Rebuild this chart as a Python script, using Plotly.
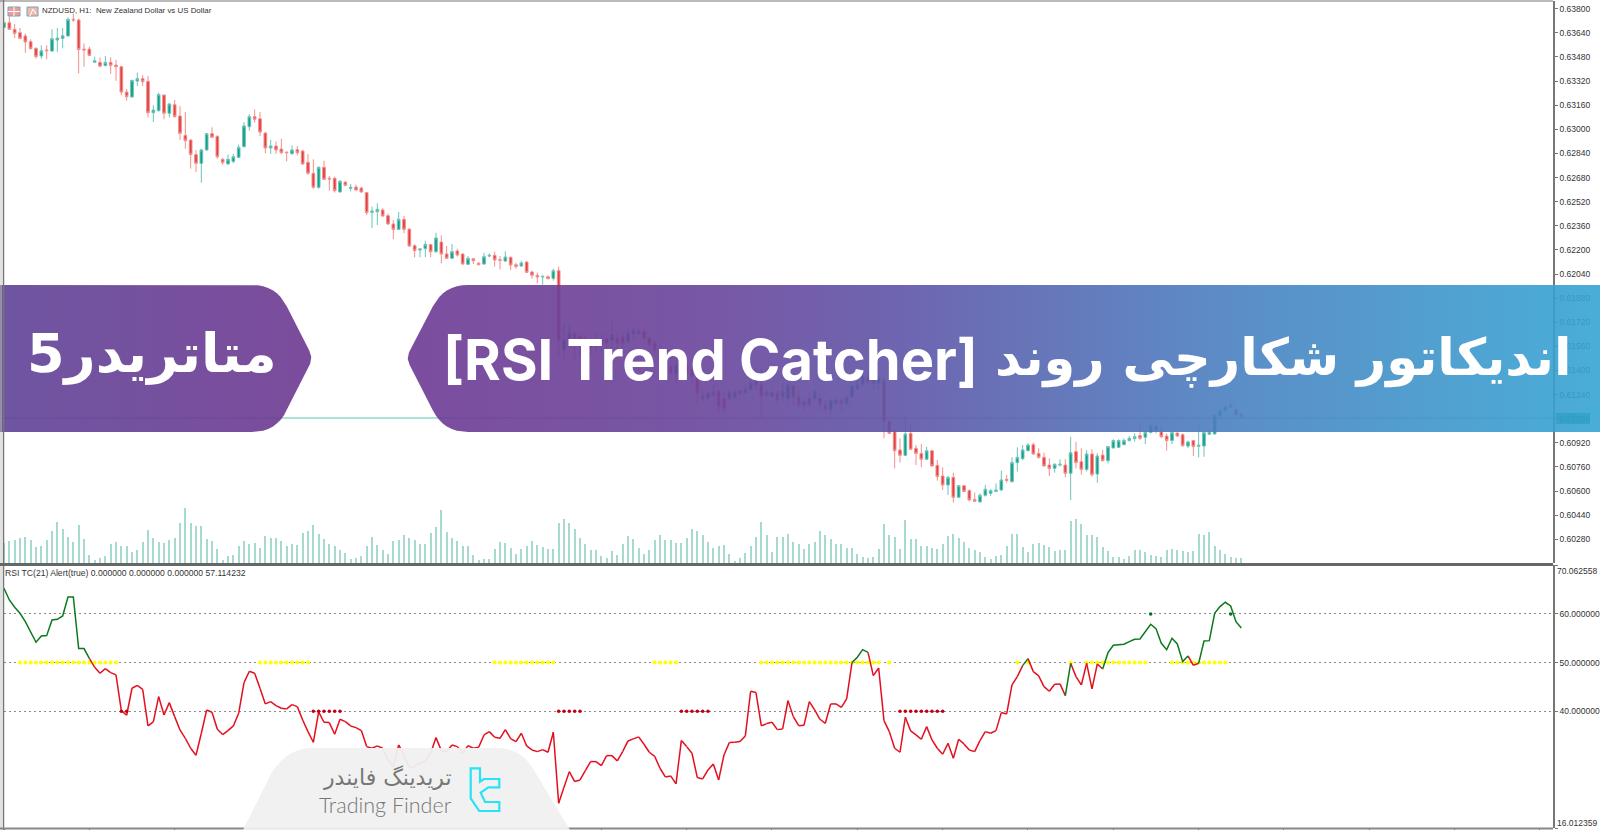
import plotly.graph_objects as go

# ---------- data (prices in points of 0.00001) ----------
opens_pts = [
63676,63707,63663,63641,63619,63581,63537,63486,63526,63519,
63592,63603,63619,63729,63725,63532,63532,63444,63444,63422,
63444,63426,63415,63247,63214,63320,63336,63318,63110,63123,
63227,63106,63163,63088,62960,62929,62832,62774,62863,62971,
62953,62801,62770,62787,62814,62885,63017,63084,63070,62975,
62876,62889,62869,62849,62838,62865,62856,62781,62708,62615,
62748,62675,62675,62584,62650,62608,62617,62610,62580,
62449,62453,62465,62427,62372,62336,62403,62338,62228,62199,
62208,62235,62188,62252,62173,62144,62193,62173,62104,62142,
62111,62106,62159,62164,62135,62126,62151,62102,62093,62120,
62053,62031,62020,62022,62011,62062,
61536,61591,61646,61624,61613,61602,61558,61569,61611,61602,
61613,61624,61591,61646,61646,61657,61613,61580,61540,61481,
61425,61381,61392,61425,61403,61381,61215,61222,61237,61260,
61215,61215,61222,61248,61253,61275,61337,61304,61237,61231,
61249,61226,61215,61297,61226,61171,61215,61215,61215,61171,
61142,61182,61204,61182,61226,61279,61310,61355,61337,61315,61333,
61061,60994,60873,60837,60983,60884,60850,60811,60868,60771,
60700,60640,60691,60559,60636,60603,60545,60528,60572,60585,
60598,60607,60678,60663,60789,60815,60868,60908,60850,60824,
60773,60751,60773,60773,60718,60862,60795,60744,60846,60713,
60839,60802,60886,60890,60908,60935,60948,60968,60957,60988,
61005,60994,60965,60935,60985,60974,60899,60935,60897,60899,
60977,60979,61098,61134,61171,61142,61107]
highs_pts = [
63712,63747,63698,63672,63636,63597,63544,63557,63557,63663,
63672,63672,63743,63765,63734,63570,63548,63482,63477,63486,
63477,63460,63420,63269,63327,63376,63358,63353,63159,63243,
63230,63172,63194,63154,63115,62933,62863,62871,62973,63013,
62960,62809,62832,62836,62898,63048,63101,63132,63115,62982,
62929,62920,62938,62851,62893,62889,62863,62836,62801,62752,
62792,62690,62686,62664,62653,62637,62633,62619,62584,
62487,62509,62476,62442,62398,62451,62425,62341,62237,62212,
62261,62239,62314,62296,62226,62239,62208,62177,62159,62144,
62120,62181,62177,62188,62159,62190,62155,62115,62128,62122,
62062,62049,62031,62031,62075,62089,
61713,61713,61657,61646,61635,61624,61646,61635,61646,61735,
61646,61657,61680,61686,61680,61673,61624,61602,61569,61514,
61492,61492,61481,61447,61425,61403,61271,61260,61304,61271,
61260,61271,61271,61275,61293,61337,61425,61414,61282,61271,
61271,61315,61337,61304,61271,61215,61249,61275,61249,61204,
61215,61215,61215,61231,61304,61337,61392,61381,61370,61359,61348,
61072,60994,60950,61094,61050,60906,60912,60895,60873,60806,
60758,60700,60722,60640,60640,60612,60590,60585,60640,60612,
60651,60736,60707,60824,60890,60906,60917,60921,60884,60855,
60817,60784,60811,60811,60961,60928,60884,60873,60877,60851,
60873,60895,60943,60943,60950,60965,60983,61045,61005,61045,
61038,61032,60983,61001,60988,60983,60935,60939,61045,60994,
61005,61111,61138,61164,61187,61149,61116]
lows_pts = [
63672,63658,63605,63597,63508,63530,63468,63468,63464,63513,
63513,63537,63614,63712,63371,63415,63486,63442,63415,63420,
63367,63322,63225,63190,63212,63287,63287,63079,63048,63119,
63066,63079,63079,62929,62871,62739,62717,62646,62858,62942,
62805,62765,62765,62774,62809,62880,62991,63044,62955,62840,
62836,62836,62836,62787,62832,62827,62765,62699,62606,62606,
62664,62593,62580,62580,62624,62588,62593,62580,62431,
62345,62365,62420,62365,62272,62332,62310,62221,62151,62151,
62151,62151,62181,62111,62142,62142,62155,62102,62100,62106,
62098,62102,62151,62089,62071,62120,62066,62075,62089,62047,
62009,61978,61969,62005,61996,61492,
61481,61558,61470,61492,61503,61492,61514,61514,61536,61514,
61547,61547,61580,61613,61635,61602,61547,61514,61459,61392,
61359,61315,61359,61355,61315,61182,61193,61204,61226,61120,
61116,61204,61209,61226,61244,61266,61271,61076,61226,61222,
61178,61193,61193,61171,61156,61138,61160,61193,61133,61127,
61083,61171,61127,61160,61222,61271,61293,61304,61271,61271,60950,
60979,60751,60789,60833,60873,60773,60758,60806,60762,60669,
60607,60574,60523,60554,60594,60532,60528,60526,60563,60568,
60594,60603,60656,60656,60729,60806,60864,60842,60815,60762,
60700,60722,60762,60691,60541,60751,60709,60731,60696,60656,
60797,60784,60884,60886,60904,60930,60928,60939,60912,60983,
60983,60950,60868,60912,60961,60895,60886,60833,60824,60828,
60972,60974,61094,61125,61149,61098,61080]
closes_pts = [
63707,63663,63636,63603,63579,63535,63482,63521,63521,63601,
63605,63621,63729,63725,63530,63526,63490,63455,63418,63444,
63424,63415,63247,63216,63325,63336,63316,63110,63128,63230,
63106,63168,63084,62973,62924,62832,62774,62863,62971,62947,
62818,62779,62801,62818,62880,63022,63084,63066,62982,62876,
62889,62863,62845,62845,62863,62845,62770,62708,62615,62748,
62668,62670,62593,62655,62628,62615,62597,62584,62447,
62458,62469,62425,62372,62336,62403,62336,62226,62195,62206,
62237,62188,62279,62173,62144,62188,62166,62106,62144,62128,
62102,62155,62164,62133,62131,62153,62100,62089,62113,62051,
62031,62020,62024,62009,62062,61602,
61602,61651,61602,61569,61558,61547,61602,61607,61580,61635,
61580,61580,61646,61664,61660,61613,61569,61536,61481,61414,
61381,61436,61459,61381,61359,61248,61231,61249,61257,61160,
61149,61253,61257,61262,61271,61319,61304,61231,61253,61253,
61204,61260,61304,61226,61171,61193,61171,61260,61171,61142,
61200,61204,61182,61222,61297,61310,61359,61326,61315,61348,61061,
60983,60868,60837,60979,60877,60850,60811,60868,60767,60696,
60640,60691,60559,60636,60598,60541,60532,60572,60612,60603,
60607,60674,60671,60789,60824,60873,60906,60846,60824,60767,
60749,60778,60778,60718,60855,60789,60744,60846,60709,60833,
60802,60895,60935,60935,60935,60950,60961,60950,60990,61032,
61032,60961,60935,60988,60965,60901,60926,60895,60904,60988,
60992,61105,61134,61160,61156,61105,61089]
volumes = [
60,66,70,74,78,68,48,52,70,95,122,102,78,62,114,72,25,10,16,22,
56,62,52,50,32,40,62,98,75,64,60,68,75,120,166,120,110,112,72,66,
42,10,20,25,50,66,56,60,45,80,76,76,65,52,56,54,90,96,114,88,
72,56,52,38,30,12,15,22,52,78,54,38,28,66,70,85,75,68,57,57,
90,108,158,94,75,66,50,52,25,8,12,12,42,62,60,46,28,42,50,65,
55,48,43,43,120,132,120,102,75,58,40,40,22,14,37,25,57,80,72,45,
27,40,70,84,70,70,60,60,74,102,96,84,63,45,50,55,28,6,16,30,
52,78,122,85,33,78,78,88,64,58,42,56,62,95,85,72,58,58,45,46,
27,17,14,19,43,118,84,78,42,128,72,72,50,50,46,43,56,80,88,74,
62,45,40,33,17,12,20,24,50,88,86,49,32,56,60,53,48,35,38,40,
125,133,118,85,83,78,48,37,18,19,12,20,38,40,32,25,22,18,39,42,
39,37,32,37,88,83,92,52,40,28,18,14,14]
rsi = [
65.27,62.88,61.37,60.14,58.42,56.16,54.18,55.48,55.55,58.77,
58.90,59.59,63.49,63.49,52.88,52.88,50.89,49.04,47.81,48.77,
47.95,47.47,40.14,39.18,44.73,45.34,44.52,36.99,37.81,43.01,
39.25,41.78,38.90,36.16,34.45,32.40,30.96,35.48,40.27,39.79,
36.30,35.21,36.03,36.99,39.59,45.89,48.22,47.81,44.73,41.51,
41.99,41.16,40.62,40.48,41.37,40.96,38.22,35.82,33.63,39.86,
37.74,37.67,35.27,38.36,37.88,36.99,36.64,36.03,32.74,32.40,
32.88,32.40,30.00,28.63,33.08,31.03,28.29,28.63,29.32,29.66,
31.37,34.59,31.92,31.71,33.08,32.74,31.37,32.95,32.40,32.60,
35.14,35.82,34.66,34.45,36.23,34.38,33.77,35.48,32.88,32.05,
31.71,32.12,31.58,35.68,21.10,24.38,27.60,25.55,25.89,27.81,
29.66,29.66,28.84,30.89,30.89,29.79,31.71,33.90,34.32,34.73,
33.22,31.58,30.75,28.29,26.51,26.71,25.07,33.97,32.74,31.37,
26.37,26.10,27.95,29.18,25.89,31.03,33.56,33.63,33.77,34.93,
44.11,43.84,36.99,37.47,37.74,36.23,36.37,42.19,38.90,37.05,
37.12,41.99,40.27,38.36,37.53,41.51,41.51,40.82,42.53,50.00,
51.10,52.67,52.12,47.33,48.90,38.08,35.82,32.40,31.58,38.77,
35.96,35.14,34.25,36.85,34.11,32.40,31.16,33.42,30.34,34.25,
33.29,32.05,31.71,33.97,35.82,35.48,36.03,39.73,39.45,45.41,
47.12,49.38,50.82,48.15,47.26,45.07,44.11,45.55,45.62,43.22,
49.86,47.12,45.41,49.86,44.59,49.73,48.70,52.05,53.56,53.63,
53.77,54.32,54.79,54.86,56.37,57.88,56.99,53.97,52.67,55.00,
53.84,50.21,51.37,49.45,49.86,54.45,54.52,60.14,61.51,62.40,
61.64,58.42,57.11]
green_runs = [(0,16),(159,162),(191,192),(199,200),(206,222),(224,232)]
yellow_runs = [(3,21),(48,57),(92,103),(122,126),(142,164),(166,166),(190,190),(192,192),(200,200),(203,214),(219,229)]
red_dot_runs = [(22,23),(58,63),(104,108),(127,132),(168,176)]
green_dots = [215,230]
price_ticks = [0.60280,0.60440,0.60600,0.60760,0.60920,0.61080,0.61240,0.61400,0.61560,0.61720,0.61880,
               0.62040,0.62200,0.62360,0.62520,0.62680,0.62840,0.63000,0.63160,0.63320,0.63480,0.63640,0.63800]
rsi_ticks = [16.012359,40,50,60,70.062558]
rsi_tick_text = ["","40.000000","50.000000","60.000000",""]

n = len(closes_pts)
assert all(len(a) == n for a in (opens_pts, highs_pts, lows_pts, volumes, rsi)), [len(a) for a in (opens_pts, highs_pts, lows_pts, closes_pts, volumes, rsi)]
xs = list(range(n))
k = 1e-5
opens = [v*k for v in opens_pts]; highs = [v*k for v in highs_pts]
lows = [v*k for v in lows_pts]; closes = [v*k for v in closes_pts]

W, H = 1600, 830
def px(x): return x/W
def py(y): return 1-y/H

RED, TEAL = "#E2403F", "#0F9E8A"
fig = go.Figure()

# volume
fig.add_trace(go.Bar(x=xs, y=volumes, width=0.24, marker=dict(color="#A6D9CF", line=dict(width=0)),
                     xaxis="x", yaxis="y3", hoverinfo="skip"))
# candles
fig.add_trace(go.Candlestick(x=xs, open=opens, high=highs, low=lows, close=closes,
    increasing=dict(line=dict(color="#6CC4B6", width=1), fillcolor=TEAL),
    decreasing=dict(line=dict(color="#F0908E", width=1), fillcolor=RED),
    xaxis="x", yaxis="y", hoverinfo="skip"))

# RSI line coloured by run
gx, gy = [], []
for a, b in green_runs:
    gx += xs[a:b+1] + [None]; gy += rsi[a:b+1] + [None]
green_set = set()
for a, b in green_runs:
    green_set.update(range(a, b))
rx, ry = [], []
for i in range(n-1):
    if i not in green_set:
        rx += [i, i+1, None]; ry += [rsi[i], rsi[i+1], None]
# level dots
def expand(runs):
    out = []
    for a, b in runs:
        out += list(range(a, b+1))
    return out
yi = expand(yellow_runs); di = expand(red_dot_runs)
fig.add_trace(go.Scatter(x=yi, y=[50]*len(yi), mode="markers", marker=dict(color="#FFFF00", size=4),
                         xaxis="x", yaxis="y2", hoverinfo="skip"))
fig.add_trace(go.Scatter(x=rx, y=ry, mode="lines", line=dict(color="#E2101E", width=1.5),
                         xaxis="x", yaxis="y2", hoverinfo="skip"))
fig.add_trace(go.Scatter(x=gx, y=gy, mode="lines", line=dict(color="#0B7A1E", width=1.5),
                         xaxis="x", yaxis="y2", hoverinfo="skip"))
fig.add_trace(go.Scatter(x=di, y=[40]*len(di), mode="markers", marker=dict(color="#C00010", size=3.5),
                         xaxis="x", yaxis="y2", hoverinfo="skip"))
fig.add_trace(go.Scatter(x=green_dots, y=[60]*len(green_dots), mode="markers", marker=dict(color="#0B6B1E", size=3.5),
                         xaxis="x", yaxis="y2", hoverinfo="skip"))

# banners (overlay in page pixels)
def rounded(pts, r, steps=8):
    out = []
    m = len(pts)
    for j in range(m):
        (x0, y0), (x1, y1), (x2, y2), rad = pts[j-1], pts[j], pts[(j+1) % m], r[j]
        if rad == 0:
            out.append((x1, y1)); continue
        d1 = ((x0-x1)**2+(y0-y1)**2)**.5; d2 = ((x2-x1)**2+(y2-y1)**2)**.5
        a = (x1+(x0-x1)*rad/d1, y1+(y0-y1)*rad/d1)
        b = (x1+(x2-x1)*rad/d2, y1+(y2-y1)*rad/d2)
        for s in range(steps+1):
            t = s/steps
            out.append(((1-t)**2*a[0]+2*t*(1-t)*x1+t*t*b[0], (1-t)**2*a[1]+2*t*(1-t)*y1+t*t*b[1]))
    out.append(out[0])
    return [p[0] for p in out], [p[1] for p in out]

A = 0.90
def seen(r, g, b):
    """rgba whose look over white equals the colour seen on the page"""
    c = [round((v-(1-A)*255)/A) for v in (r, g, b)]
    return f"rgba({c[0]},{c[1]},{c[2]},{A})"

b1x, b1y = rounded([(0,285),(276,285),(313,358),(276,432),(0,432)], [0,24,8,24,0])
b2x, b2y = rounded([(444,285),(1600,285),(1600,432),(444,432),(406,358)], [24,0,0,24,8])
fig.add_trace(go.Scatter(x=b1x, y=b1y, mode="lines", line=dict(width=0), fill="toself",
    fillgradient=dict(type="horizontal", colorscale=[[0,seen(111,85,161)],[1,seen(124,76,156)]]),
    xaxis="x2", yaxis="y4", hoverinfo="skip"))
fig.add_trace(go.Scatter(x=b2x, y=b2y, mode="lines", line=dict(width=0), fill="toself",
    fillgradient=dict(type="horizontal", colorscale=[[0,seen(124,77,158)],[0.245,seen(120,87,165)],
        [0.413,seen(110,101,176)],[0.715,seen(90,144,200)],[1,seen(73,174,215)]]),
    xaxis="x2", yaxis="y4", hoverinfo="skip"))

GRAY = "#777777"
def line(x0, y0, x1, y1, color=GRAY, width=1, layer="above"):
    return dict(type="line", xref="paper", yref="paper", x0=px(x0), y0=py(y0), x1=px(x1), y1=py(y1),
                line=dict(color=color, width=width), layer=layer)
def path(d, fill=None, color="rgba(0,0,0,0)", width=0):
    return dict(type="path", xref="x2", yref="y4", path=d, fillcolor=fill or "rgba(0,0,0,0)",
                line=dict(color=color, width=width), layer="above")
shapes = [
    line(4, 418, 1553, 418, "#5CC4B2", 1, "below"),
    dict(type="rect", xref="paper", yref="paper", x0=px(1556), x1=px(1590), y0=py(413), y1=py(424),
         fillcolor="#1AA58F", line=dict(width=0), layer="below"),
    line(1, 0, 1, 830, "#C4C4C4", 1),
    line(3.5, 0, 3.5, 830, GRAY, 1.5),
    line(0, 1, 1553, 1, GRAY, 1),
    line(0, 564.5, 1553, 564.5, "#666666", 3),
    line(0, 828.5, 1553, 828.5, "#888888", 2),
    # grey logo plate
    path("M243,830 L272,772 Q288,748 312,748 L497,748 Q522,748 535,772 L570,830 Z", fill="rgba(240,240,240,0.95)"),
    # logo mark
    path("M470.7,768.3 L480,768.3 L480,781.7 L484,779 L499.3,779 L499.3,787.3 L488.3,787.3 L480.7,792.7 "
         "L485,802 L499.3,802 L499.3,811 L479.3,811 L470.7,798.3 Z", color="#25E4F6", width=2.2),
    # terminal icons
    dict(type="rect", xref="x2", yref="y4", x0=8, x1=20, y0=7, y1=16, fillcolor="#EE9C95",
         line=dict(color="#6FA3C8", width=1), layer="above"),
    path("M8,11.5 L20,11.5 M14,7 L14,16", color="#FFFFFF", width=1),
    dict(type="rect", xref="x2", yref="y4", x0=27, x1=38, y0=7, y1=16, fillcolor="#F2B8A8",
         line=dict(color="#6FA3C8", width=1), layer="above"),
    path("M30,16 L33,9 L36,14", color="#FFFFFF", width=1),
]

def label(x, y, text, size, color="#333333", family="Liberation Sans", anchor="left", weight=None):
    f = dict(size=size, color=color, family=family)
    if weight: f["weight"] = weight
    return dict(xref="paper", yref="paper", x=px(x), y=py(y), text=text, showarrow=False, xanchor=anchor,
                yanchor="middle", font=f, borderpad=0, borderwidth=0)

annotations = [
    label(42, 11, "NZDUSD, H1:\u00a0\u00a0New Zealand Dollar vs US Dollar", 7.9),
    label(5, 573, "RSI TC(21) Alert(true) 0.000000 0.000000 0.000000 57.114232", 8.6),
    label(1557, 570.5, "70.062558", 8.5),
    label(1557, 823, "16.012359", 8.5),
    label(1571, 358, "اندیکاتور شکارچی روند", 51, "#FFFFFF", "DejaVu Sans", "right", 700),
    label(443, 360, "[RSI Trend Catcher]", 56, "#FFFFFF", "Inter", "left", 700),
    label(152, 353, "متاتریدر5", 54, "#FFFFFF", "DejaVu Sans", "center", 700),
    label(452, 777, "تریدینگ فایندر", 22, "#777777", "DejaVu Sans", "right"),
    label(452, 805, "Trading Finder", 21.5, "#777777", "Lato", "right", 300),
]

fig.update_layout(
    width=W, height=H, margin=dict(l=0, r=0, t=0, b=0), showlegend=False,
    paper_bgcolor="white", plot_bgcolor="rgba(0,0,0,0)", boxgap=0.28, bargap=0,
    xaxis=dict(domain=[px(4), px(1553)], range=[0, 290.44], rangeslider=dict(visible=False), anchor="y2",
               showgrid=False, zeroline=False, showticklabels=False, ticks="outside", ticklen=2,
               tickcolor=GRAY, tickmode="linear", tick0=0, dtick=16, showline=False),
    yaxis=dict(domain=[py(563), py(1)], range=[0.60123, 0.63851], anchor="x", side="right", showgrid=False, zeroline=False,
               tickmode="array", tickvals=price_ticks, ticktext=[f"{t:.5f}" for t in price_ticks],
               ticks="outside", ticklen=3, tickcolor=GRAY, showline=True, linecolor=GRAY, linewidth=1.5,
               tickfont=dict(family="Liberation Sans", size=8.5, color="#333333")),
    yaxis2=dict(domain=[py(828), py(565)], range=[16.012359, 70.062558], anchor="x", side="right", zeroline=False,
                showgrid=True, gridcolor="#8A8A8A", griddash="2px,3px", gridwidth=1,
                tickmode="array", tickvals=rsi_ticks, ticktext=rsi_tick_text,
                ticks="outside", ticklen=3, tickcolor=GRAY, showline=True, linecolor=GRAY, linewidth=1.5,
                tickfont=dict(family="Liberation Sans", size=8.5, color="#333333")),
    yaxis3=dict(overlaying="y", range=[0, 1689], visible=False, anchor="x"),
    xaxis2=dict(domain=[0, 1], range=[0, W], visible=False, anchor="y4"),
    yaxis4=dict(domain=[0, 1], range=[H, 0], visible=False, anchor="x2"),
    shapes=shapes, annotations=annotations,
)
fig.write_html("out.html", post_script="document.body.style.margin='0';document.body.style.overflow='hidden';",
               config=dict(displayModeBar=False))
